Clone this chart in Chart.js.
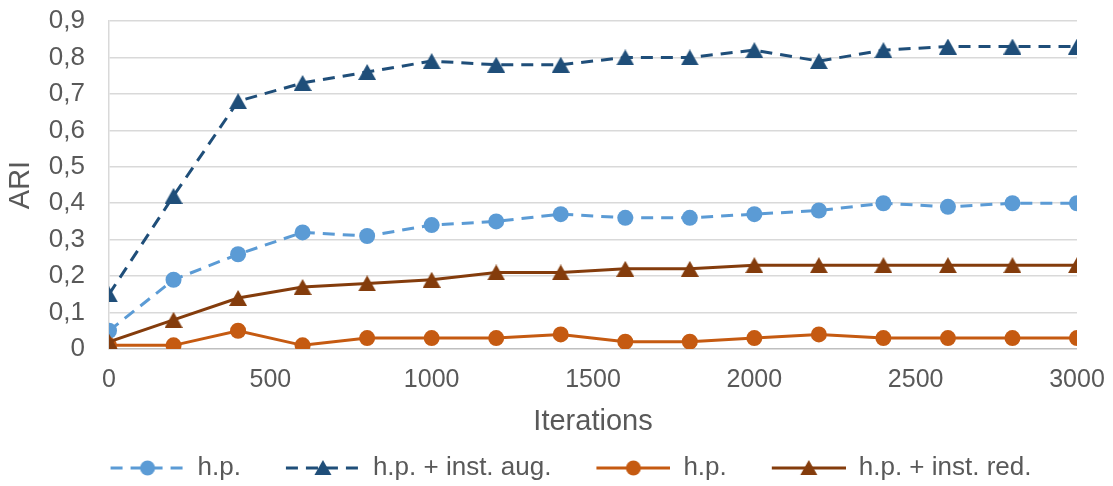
<!DOCTYPE html>
<html>
<head>
<meta charset="utf-8">
<script src="https://cdn.jsdelivr.net/npm/chart.js@4/dist/chart.umd.min.js"></script>
<style>
    html, body { margin: 0; padding: 0; background: #fff; }
    #wrap { width: 1113px; height: 486px; }
</style>
</head>
<body>
<div id="wrap"><canvas id="chart"></canvas></div>
<script>
// Values
const iterations = [0, 200, 400, 600, 800, 1000, 1200, 1400, 1600, 1800, 2000, 2200, 2400, 2600, 2800, 3000];
const hpAug = [0.05, 0.19, 0.26, 0.32, 0.31, 0.34, 0.35, 0.37, 0.36, 0.36, 0.37, 0.38, 0.40, 0.39, 0.40, 0.40];
const hpInstAug = [0.15, 0.42, 0.68, 0.73, 0.76, 0.79, 0.78, 0.78, 0.80, 0.80, 0.82, 0.79, 0.82, 0.83, 0.83, 0.83];
const hpRed = [0.01, 0.01, 0.05, 0.01, 0.03, 0.03, 0.03, 0.04, 0.02, 0.02, 0.03, 0.04, 0.03, 0.03, 0.03, 0.03];
const hpInstRed = [0.02, 0.08, 0.14, 0.17, 0.18, 0.19, 0.21, 0.21, 0.22, 0.22, 0.23, 0.23, 0.23, 0.23, 0.23, 0.23];
const seriesLabels = ['h.p.', 'h.p. + inst. aug.', 'h.p.', 'h.p. + inst. red.'];

const FONT = "'Liberation Sans', Arial, sans-serif";
const TEXT = '#595959';
const GAP = 35; // blank space before each legend symbol

// Triangle marker centred on its box, like the spreadsheet one
function triangleMarker(color) {
    const c = document.createElement('canvas');
    c.width = 18;
    c.height = 16;
    const g = c.getContext('2d');
    g.fillStyle = color;
    g.beginPath();
    g.moveTo(9, 0);
    g.lineTo(18, 16);
    g.lineTo(0, 16);
    g.closePath();
    g.fill();
    return c;
}

// Small line + marker picture for the legend
function legendSymbol(color, dash, shape) {
    const c = document.createElement('canvas');
    c.width = GAP + 74;
    c.height = 20;
    const g = c.getContext('2d');
    g.strokeStyle = color;
    g.lineWidth = 3;
    g.setLineDash(dash);
    g.beginPath();
    g.moveTo(GAP, 10);
    g.lineTo(GAP + 74, 10);
    g.stroke();
    g.setLineDash([]);
    g.fillStyle = color;
    g.beginPath();
    if (shape === 'circle') {
        g.arc(GAP + 37, 10, 7.5, 0, Math.PI * 2);
    } else {
        g.moveTo(GAP + 37, 2);
        g.lineTo(GAP + 45.5, 17);
        g.lineTo(GAP + 28.5, 17);
        g.closePath();
    }
    g.fill();
    return c;
}

function makeSeries(values, label, color, dash, shape, order) {
    return {
        label: label,
        data: iterations.map((x, i) => ({ x: x, y: values[i] })),
        borderColor: color,
        backgroundColor: color,
        borderWidth: 3,
        borderDash: dash,
        pointStyle: shape === 'circle' ? 'circle' : triangleMarker(color),
        pointRadius: 8,
        pointHoverRadius: 8,
        pointBorderWidth: 0,
        tension: 0,
        order: order,
        legendImage: legendSymbol(color, dash, shape)
    };
}

const datasets = [
    makeSeries(hpAug, seriesLabels[0], '#5B9BD5', [12, 8], 'circle', 4),
    makeSeries(hpInstAug, seriesLabels[1], '#1F4E79', [12, 8], 'triangle', 3),
    makeSeries(hpRed, seriesLabels[2], '#C55A11', [], 'circle', 2),
    makeSeries(hpInstRed, seriesLabels[3], '#843C0C', [], 'triangle', 1)
];

new Chart(document.getElementById('chart'), {
    type: 'line',
    data: { datasets: datasets },
    options: {
        responsive: true,
        maintainAspectRatio: false,
        animation: false,
        layout: { padding: { top: 0, right: 8, left: 2, bottom: -5 } },
        plugins: {
            tooltip: { enabled: false },
            legend: {
                position: 'bottom',
                labels: {
                    usePointStyle: true,
                    pointStyleWidth: GAP + 74,
                    padding: 10,
                    color: TEXT,
                    font: { family: FONT, size: 26 },
                    sort: (a, b) => a.datasetIndex - b.datasetIndex,
                    generateLabels: chart => chart.data.datasets.map((ds, i) => ({
                        text: ds.label,
                        pointStyle: ds.legendImage,
                        fillStyle: ds.borderColor,
                        strokeStyle: ds.borderColor,
                        fontColor: TEXT,
                        lineWidth: 0,
                        hidden: false,
                        datasetIndex: i
                    }))
                }
            }
        },
        scales: {
            x: {
                type: 'linear',
                min: 0,
                max: 3000,
                ticks: {
                    stepSize: 500,
                    padding: 16,
                    autoSkip: false,
                    maxRotation: 0,
                    color: TEXT,
                    font: { family: FONT, size: 25 },
                    callback: v => String(v)
                },
                grid: { display: false, drawTicks: false },
                border: { display: false },
                title: {
                    display: true,
                    text: 'Iterations',
                    color: TEXT,
                    font: { family: FONT, size: 29 },
                    padding: { top: 2, bottom: 6 }
                },
                afterFit: scale => {
                    scale.height = 96;
                    scale.paddingLeft = 0;
                    scale.paddingRight = 36;
                }
            },
            y: {
                min: 0,
                max: 0.9,
                ticks: {
                    stepSize: 0.1,
                    padding: 24,
                    autoSkip: false,
                    color: TEXT,
                    font: { family: FONT, size: 26 },
                    callback: v => v === 0 ? '0' : v.toFixed(1).replace('.', ',')
                },
                grid: {
                    drawTicks: false,
                    color: ctx => ctx.tick && ctx.tick.value === 0 ? '#bfbfbf' : '#d9d9d9',
                    lineWidth: 1.5
                },
                border: { display: true, color: '#d9d9d9', width: 1.5 },
                title: {
                    display: true,
                    text: 'ARI',
                    color: TEXT,
                    font: { family: FONT, size: 29 },
                    padding: { top: 2, bottom: 4 }
                },
                afterFit: scale => {
                    scale.width = 107;
                    scale.paddingTop = 21;
                    scale.paddingBottom = 0;
                }
            }
        }
    }
});
</script>
</body>
</html>
